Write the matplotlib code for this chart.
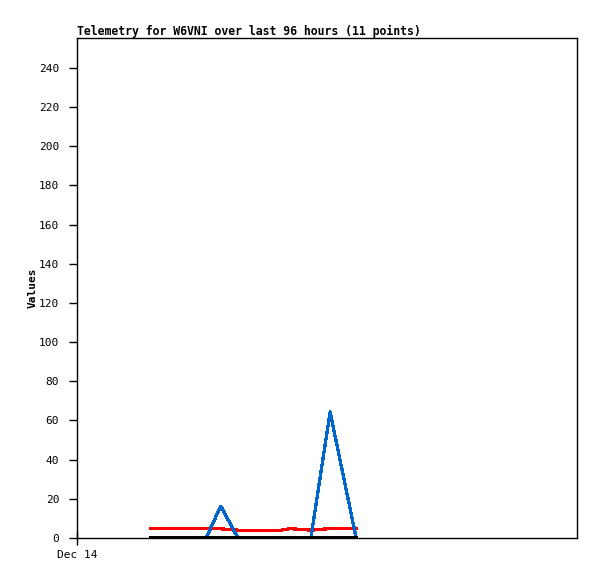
import matplotlib
matplotlib.use("Agg")
import matplotlib.pyplot as plt

# hours since Dec 14 00:00
hours = [14.2, 20.0, 24.8, 27.6, 30.9, 35.0, 39.2, 40.9, 44.9, 48.6, 53.6]
blue_vals = [0, 0, 0, 16.3, 0, 0, 0, 0, 0, 64.3, 0]
red_vals = [4.8, 4.8, 4.8, 4.7, 4.0, 4.0, 4.0, 4.8, 4.0, 4.8, 4.8]
black_vals = [0, 0, 0, 0, 0, 0, 0, 0, 0, 0, 0]
yticks = list(range(0, 241, 20))

plt.rcParams['font.family'] = 'DejaVu Sans Mono'

fig = plt.figure(figsize=(5.97, 5.79), dpi=100)
ax = fig.add_axes([77 / 597, 41 / 579, 500 / 597, 500 / 579])

ax.plot(hours, red_vals, color="#ff0000", lw=1.6, antialiased=False, zorder=3)
ax.plot(hours, blue_vals, color="#0066cc", lw=1.6, antialiased=False, zorder=4)
ax.plot(hours, black_vals, color="black", lw=1.6, antialiased=False, zorder=5)

ax.set_xlim(0, 96)
ax.set_ylim(0, 255.3)
ax.set_yticks(yticks)
ax.set_yticklabels([str(v) for v in yticks], fontsize=8)
ax.set_xticks([0])
ax.set_xticklabels(["Dec 14"], fontsize=8)
ax.tick_params(axis="y", direction="out", length=5.8, width=1, pad=7)
ax.tick_params(axis="x", direction="inout", length=10, width=1, pad=4)
for s in ax.spines.values():
    s.set_linewidth(1)

ax.set_ylabel("Values", fontsize=8, fontweight="bold", labelpad=1)
ax.set_title("Telemetry for W6VNI over last 96 hours (11 points)",
             fontsize=8.3, fontweight="bold", loc="left", pad=2)

fig.savefig("out.png", dpi=100)
